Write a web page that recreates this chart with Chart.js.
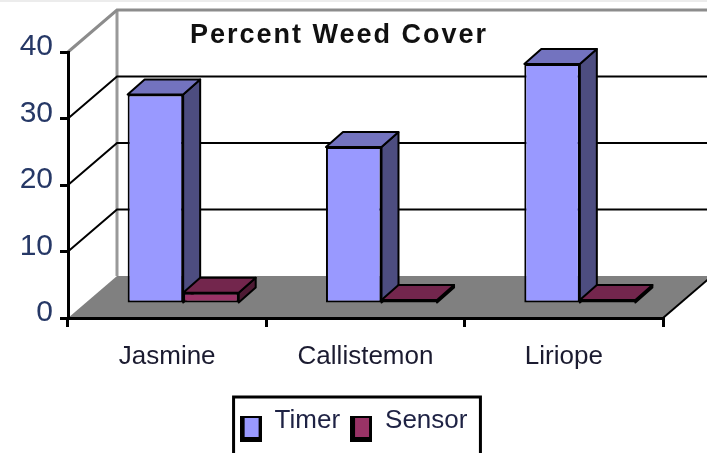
<!DOCTYPE html>
<html>
<head>
<meta charset="utf-8">
<script src="https://cdn.jsdelivr.net/npm/chart.js@4.4.0/dist/chart.umd.min.js"></script>
<style>
  html, body { margin: 0; padding: 0; background: #fff; }
  canvas { display: block; }
</style>
</head>
<body>
<canvas id="chart" width="707" height="453"></canvas>
<script>
const chartTitle = "Percent Weed Cover";
const categories = ["Jasmine", "Callistemon", "Liriope"];
const seriesNames = ["Timer", "Sensor"];
const timer = [31.5, 23.6, 36.1];
const sensor = [1.7, 0.6, 0.6];
const yTicks = [0, 10, 20, 30, 40];

// depth of the 3d box and of the bars (px)
const depth = { x: 49, y: 42 };
const barShift = { x: 16, y: 14 };
const barDepth = { x: 17, y: 15 };

const faces = [
  { front: "#9999ff", top: "#7373bf", side: "#4d4d80" },
  { front: "#993366", top: "#73264d", side: "#4d1a33" },
];

const fontFamily = "'Liberation Sans', Arial, sans-serif";
Chart.defaults.font.family = fontFamily;

const legendMarker = (fill) => {
  const c = document.createElement("canvas");
  c.width = 22;
  c.height = 44;
  const g = c.getContext("2d");
  g.fillStyle = "#000";
  g.fillRect(0, 17, 22, 26);
  g.fillStyle = fill;
  g.fillRect(5, 19, 14, 19);
  return c;
};
const markers = faces.map((f) => legendMarker(f.front));

const poly = (ctx, pts, fill) => {
  ctx.beginPath();
  pts.forEach(([x, y], i) => (i ? ctx.lineTo(x, y) : ctx.moveTo(x, y)));
  ctx.closePath();
  ctx.fillStyle = fill;
  ctx.fill();
  ctx.stroke();
};

const box3d = {
  id: "box3d",
  beforeDraw(chart) {
    const { ctx, chartArea: a } = chart;
    const y = chart.scales.y;
    const y0 = y.getPixelForValue(0);
    ctx.save();
    ctx.fillStyle = "#ececec";
    ctx.fillRect(0, 0, chart.width, 2);
    // back wall left edge
    ctx.strokeStyle = "#999";
    ctx.lineWidth = 3;
    ctx.beginPath();
    ctx.moveTo(a.left + depth.x, a.top - depth.y);
    ctx.lineTo(a.left + depth.x, y0 - depth.y);
    ctx.stroke();
    // floor
    ctx.fillStyle = "#808080";
    ctx.beginPath();
    ctx.moveTo(a.left, y0);
    ctx.lineTo(a.right, y0);
    ctx.lineTo(a.right + depth.x, y0 - depth.y);
    ctx.lineTo(a.left + depth.x, y0 - depth.y);
    ctx.closePath();
    ctx.fill();
    ctx.strokeStyle = "#000";
    ctx.lineWidth = 2;
    ctx.beginPath();
    ctx.moveTo(a.right, y0);
    ctx.lineTo(a.right + depth.x, y0 - depth.y);
    ctx.stroke();
    // gridlines on side wall and back wall
    y.ticks.forEach((t) => {
      if (t.value === 0) return;
      const py = y.getPixelForValue(t.value);
      const isTop = t.value === y.max;
      ctx.strokeStyle = isTop ? "#8c8c8c" : "#000";
      ctx.lineWidth = isTop ? 3 : 2;
      ctx.beginPath();
      ctx.moveTo(a.left, py);
      ctx.lineTo(a.left + depth.x, py - depth.y);
      ctx.lineTo(a.right + depth.x, py - depth.y);
      ctx.stroke();
    });
    ctx.restore();
  },
  beforeDatasetsDraw(chart) {
    const ctx = chart.ctx;
    ctx.save();
    ctx.translate(barShift.x, -barShift.y);
    ctx.lineWidth = 2;
    ctx.strokeStyle = "#000";
    ctx.lineJoin = "round";
    chart.data.datasets.forEach((ds, i) => {
      const f = faces[i];
      chart.getDatasetMeta(i).data.forEach((bar) => {
        const { x, y, base, width } = bar.getProps(["x", "y", "base", "width"], true);
        const l = x - width / 2;
        const r = x + width / 2;
        const t = Math.min(y, base);
        const b = Math.max(y, base);
        poly(ctx, [[r, t], [r + barDepth.x, t - barDepth.y], [r + barDepth.x, b - barDepth.y], [r, b]], f.side);
        poly(ctx, [[l, t], [r, t], [r + barDepth.x, t - barDepth.y], [l + barDepth.x, t - barDepth.y]], f.top);
      });
    });
  },
  afterDatasetsDraw(chart) {
    chart.ctx.restore();
  },
  afterDraw(chart) {
    const { ctx, chartArea: a } = chart;
    ctx.save();
    ctx.font = "bold 27px " + fontFamily;
    ctx.letterSpacing = "2px";
    ctx.fillStyle = "#111";
    ctx.textAlign = "center";
    ctx.textBaseline = "middle";
    ctx.fillText(chartTitle, a.left + 271, a.top - 16);
    ctx.restore();

    const lg = chart.legend;
    const hb = lg.legendHitBoxes;
    const last = hb[hb.length - 1];
    const l = hb[0].left - 6;
    const r = last.left + last.width + 13;
    ctx.save();
    ctx.strokeStyle = "#000";
    ctx.lineWidth = 3;
    ctx.strokeRect(l, lg.top - 1, r - l, 100);
    ctx.restore();
  },
};

new Chart(document.getElementById("chart"), {
  type: "bar",
  data: {
    labels: categories,
    datasets: [
      {
        label: seriesNames[0],
        data: timer,
        backgroundColor: faces[0].front,
        borderColor: "#000",
        borderWidth: 2,
        borderSkipped: false,
        clip: false,
      },
      {
        label: seriesNames[1],
        data: sensor,
        backgroundColor: faces[1].front,
        borderColor: "#000",
        borderWidth: 2,
        borderSkipped: false,
        clip: false,
      },
    ],
  },
  options: {
    responsive: false,
    animation: false,
    events: [],
    categoryPercentage: 0.56,
    barPercentage: 1,
    layout: { padding: { top: 52, right: 0, bottom: 9, left: 0 } },
    scales: {
      x: {
        grid: { drawOnChartArea: false, color: "#000", lineWidth: 3, tickLength: 9, offset: true },
        border: { color: "#000", width: 3 },
        ticks: {
          font: { size: 26 },
          color: "#1b1b30",
          padding: 14,
          maxRotation: 0,
          autoSkip: false,
        },
        afterFit: (s) => {
          s.height = 80;
        },
      },
      y: {
        min: 0,
        max: 40,
        afterBuildTicks: (s) => {
          s.ticks = yTicks.map((v) => ({ value: v }));
        },
        grid: { drawOnChartArea: false, color: "#000", lineWidth: 3, tickLength: 8 },
        border: { color: "#000", width: 3 },
        ticks: {
          font: { size: 30 },
          color: "#263866",
          padding: 7,
          labelOffset: -5,
        },
        afterFit: (s) => {
          s.width = 68;
        },
      },
      // empty strip on the right where the 3d box runs out
      depthStrip: {
        type: "linear",
        position: "right",
        grid: { display: false },
        border: { display: false },
        ticks: { display: false },
        afterFit: (s) => {
          s.width = 44;
        },
      },
    },
    plugins: {
      title: { display: false },
      tooltip: { enabled: false },
      legend: {
        position: "bottom",
        labels: {
          usePointStyle: true,
          boxWidth: 22,
          boxHeight: 26,
          padding: 10,
          font: { size: 26 },
          color: "#1e2244",
          generateLabels: (chart) =>
            Chart.defaults.plugins.legend.labels
              .generateLabels(chart)
              .map((item) => ({ ...item, pointStyle: markers[item.datasetIndex] })),
        },
      },
    },
  },
  plugins: [box3d],
});
</script>
</body>
</html>
